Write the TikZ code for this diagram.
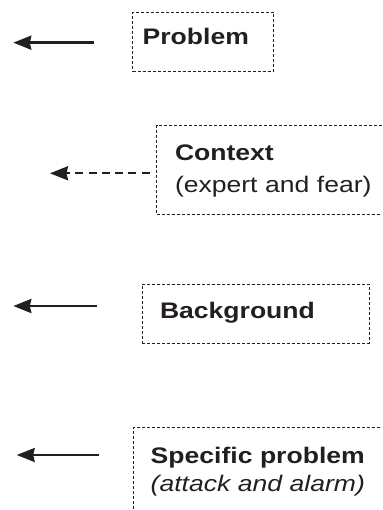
\documentclass[tikz,border=0pt]{standalone}
\usepackage{fontspec}
\setmainfont{Liberation Sans}[FakeStretch=1.18]
\usepackage{xcolor}
\usetikzlibrary{arrows.meta}
\definecolor{ink}{HTML}{231F20}

\begin{document}
\begin{tikzpicture}[
    x=1pt, y=-1pt,
    box/.style={rectangle, draw=ink, text=ink, line width=0.8pt, dash pattern=on 3pt off 2pt,
        anchor=north west, inner ysep=0pt, outer sep=0pt, align=left,
        font=\fontsize{22.5}{32}\selectfont},
    pointer/.style={draw=ink, line width=2.4pt, -{Stealth[length=18pt, width=14pt, inset=1.5pt]}}
]
    \useasboundingbox (0,0) rectangle (382,510);
    \clip (0,0) rectangle (382,510);

    \node[box, inner xsep=10.2pt, text width=120.4pt, text height=32pt, text depth=27.4pt]
        (problem) at (132.5,12.3) {\textbf{Problem}};
    \node[box, inner xsep=18.3pt, text width=206.7pt, text height=34.8pt, text depth=53.8pt]
        (context) at (156.7,125.7) {\textbf{Context}\\(expert and fear)};
    \node[box, inner xsep=17.7pt, text width=191.6pt, text height=34pt, text depth=25pt]
        (background) at (142.3,284) {\textbf{Background}};
    \node[box, inner xsep=17.4pt, text width=232pt, text height=36pt, text depth=66.7pt,
        font=\fontsize{22.5}{28}\selectfont]
        (specific) at (133.3,427.3) {\textbf{Specific problem}\\\textit{(attack and alarm)}};

    \coordinate (problem-tip) at (13.3,42.7);
    \coordinate (context-tip) at (50,173.3);
    \coordinate (background-tip) at (13.3,306);
    \coordinate (specific-tip) at (16.7,455);

    \foreach \from/\gap in {problem/38.5, background/45.6, specific/34}
        \draw[pointer, shorten <=\gap pt] (\from.west |- \from-tip) -- (\from-tip);
    \draw[pointer, dash pattern=on 8pt off 5.3pt, shorten <=7pt] (context.west |- context-tip) -- (context-tip);
\end{tikzpicture}
\end{document}
